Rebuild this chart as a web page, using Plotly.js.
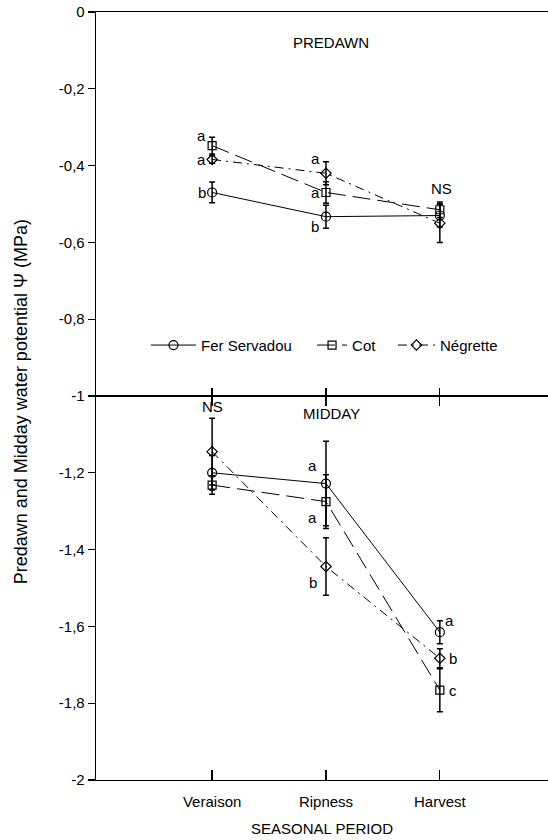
<!DOCTYPE html>
<html>
<head>
<meta charset="utf-8">
<script src="https://cdn.plot.ly/plotly-3.0.1.min.js"></script>
<style>
  html, body { margin: 0; padding: 0; background: #fff; }
  #chart { width: 548px; height: 840px; }
</style>
</head>
<body>
<div id="chart"></div>
<script>
// Seasonal periods on the x axis
const categories = ['Veraison', 'Ripness', 'Harvest'];
const varieties = ['Fer Servadou', 'Cot', 'Négrette'];

// Predawn leaf water potential (MPa) and standard errors
const predawnFer = [-0.47, -0.533, -0.53];
const predawnFerErr = [0.027, 0.03, 0.03];
const predawnCot = [-0.348, -0.47, -0.515];
const predawnCotErr = [0.022, 0.028, 0.02];
const predawnNeg = [-0.384, -0.42, -0.55];
const predawnNegErr = [0.01, 0.03, 0.05];

// Midday leaf water potential (MPa) and standard errors
const middayFer = [-1.2, -1.228, -1.615];
const middayFerErr = [0.045, 0.11, 0.03];
const middayCot = [-1.232, -1.275, -1.766];
const middayCotErr = [0.024, 0.07, 0.056];
const middayNeg = [-1.145, -1.444, -1.683];
const middayNegErr = [0.087, 0.075, 0.025];

// Tick labels (decimal comma)
const predawnTickVals = [0, -0.2, -0.4, -0.6, -0.8, -1];
const predawnTickText = ['0', '-0,2', '-0,4', '-0,6', '-0,8', '-1'];
const middayTickVals = [-1.2, -1.4, -1.6, -1.8, -2];
const middayTickText = ['-1,2', '-1,4', '-1,6', '-1,8', '-2'];

const FONT = 'Liberation Sans, Arial, Helvetica, sans-serif';
const INK = '#000';

// one legend per variety so each key sits at its own spot
const styles = [
  { symbol: 'circle-open', size: 9, dash: 'solid', legend: 'legend' },
  { symbol: 'square-open', size: 8, dash: '18px,7px', legend: 'legend2' },
  { symbol: 'diamond-open', size: 8, dash: '9px,5px,2px,5px', legend: 'legend3' }
];

function series(name, y, err, idx, xa, ya, showInLegend) {
  const s = styles[idx];
  return {
    type: 'scatter', mode: 'lines+markers', name: name,
    x: categories, y: y,
    xaxis: xa, yaxis: ya, showlegend: showInLegend, legend: s.legend,
    line: { color: INK, width: 1, dash: s.dash },
    marker: { symbol: s.symbol, size: s.size, color: INK, line: { color: INK, width: 1.2 } },
    error_y: { type: 'data', array: err, visible: true, color: INK, thickness: 1.5, width: 3 },
    cliponaxis: false
  };
}

const traces = [
  series(varieties[0], predawnFer, predawnFerErr, 0, 'x2', 'y', true),
  series(varieties[1], predawnCot, predawnCotErr, 1, 'x2', 'y', true),
  series(varieties[2], predawnNeg, predawnNegErr, 2, 'x2', 'y', true),
  series(varieties[0], middayFer, middayFerErr, 0, 'x', 'y2', false),
  series(varieties[1], middayCot, middayCotErr, 1, 'x', 'y2', false),
  series(varieties[2], middayNeg, middayNegErr, 2, 'x', 'y2', false)
];

// Significance letters, placed next to the point they refer to
function letter(text, cat, y, xa, ya, dx, dy) {
  return {
    text: text, x: cat, y: y, xref: xa, yref: ya,
    xshift: dx, yshift: dy, showarrow: false,
    xanchor: 'center', yanchor: 'middle',
    font: { family: FONT, size: 15, color: INK }
  };
}

const annotations = [
  // predawn
  letter('a', categories[0], predawnCot[0], 'x2', 'y', -11, 10),
  letter('a', categories[0], predawnNeg[0], 'x2', 'y', -11, 0),
  letter('b', categories[0], predawnFer[0], 'x2', 'y', -10, 0),
  letter('a', categories[1], predawnNeg[1], 'x2', 'y', -10, 15),
  letter('a', categories[1], predawnCot[1], 'x2', 'y', -10, 0),
  letter('b', categories[1], predawnFer[1], 'x2', 'y', -11, -10),
  letter('NS', categories[2], predawnCot[2], 'x2', 'y', 2, 21),
  // midday
  letter('NS', categories[0], middayNeg[0], 'x', 'y2', 0, 45),
  letter('a', categories[1], middayFer[1], 'x', 'y2', -13, 18),
  letter('a', categories[1], middayCot[1], 'x', 'y2', -13, -16),
  letter('b', categories[1], middayNeg[1], 'x', 'y2', -13, -16),
  letter('a', categories[2], middayFer[2], 'x', 'y2', 10, 12),
  letter('b', categories[2], middayNeg[2], 'x', 'y2', 13, 0),
  letter('c', categories[2], middayCot[2], 'x', 'y2', 13, 0),
  // panel labels
  { text: 'PREDAWN', xref: 'paper', yref: 'paper', x: 0.52, y: 0.96,
    xanchor: 'center', yanchor: 'middle', showarrow: false,
    font: { family: FONT, size: 15, color: INK } },
  { text: 'MIDDAY', xref: 'paper', yref: 'paper', x: 0.52, y: 0.4766,
    xanchor: 'center', yanchor: 'middle', showarrow: false,
    font: { family: FONT, size: 15, color: INK } },
  // shared y title spanning both panels
  { text: 'Predawn and Midday water potential Ψ (MPa)', xref: 'paper', yref: 'paper',
    x: -0.164, y: 0.493, xanchor: 'center', yanchor: 'middle', textangle: -90, showarrow: false,
    font: { family: FONT, size: 18, color: INK } }
];

const xRange = [-1.02, 2.95];
const axisCommon = {
  showgrid: false, zeroline: false, showline: true,
  linecolor: INK, linewidth: 1.3, tickcolor: INK, tickwidth: 1.3,
  tickfont: { family: FONT, size: 15, color: INK }
};

function legendAt(x, itemwidth) {
  return {
    orientation: 'h', x: x, xanchor: 'left', y: 0.566, yanchor: 'middle',
    bgcolor: 'rgba(0,0,0,0)', itemwidth: itemwidth,
    font: { family: FONT, size: 15, color: INK }
  };
}

const layout = {
  width: 548, height: 840,
  margin: { l: 96, r: 0, t: 12, b: 60 },
  paper_bgcolor: '#fff', plot_bgcolor: '#fff',
  font: { family: FONT, size: 15, color: INK },
  showlegend: true,
  legend: legendAt(0.1106, 45),
  legend2: legendAt(0.478, 30),
  legend3: legendAt(0.657, 37),
  // bottom panel (midday)
  xaxis: Object.assign({}, axisCommon, {
    type: 'category', range: xRange, anchor: 'y2',
    ticks: 'inside', ticklen: 10, mirror: 'ticks', ticklabelstandoff: 8,
    title: { text: 'SEASONAL PERIOD', font: { family: FONT, size: 15, color: INK }, standoff: 14 }
  }),
  yaxis2: Object.assign({}, axisCommon, {
    domain: [0, 0.5], range: [-2, -1], anchor: 'x',
    ticks: 'outside', ticklen: 7,
    tickvals: middayTickVals, ticktext: middayTickText
  }),
  // top panel (predawn)
  xaxis2: Object.assign({}, axisCommon, {
    type: 'category', range: xRange, anchor: 'y',
    ticks: 'inside', ticklen: 8, mirror: true, showticklabels: false
  }),
  yaxis: Object.assign({}, axisCommon, {
    domain: [0.5, 1], range: [-1, 0], anchor: 'x2',
    ticks: 'outside', ticklen: 7,
    tickvals: predawnTickVals, ticktext: predawnTickText
  }),
  annotations: annotations
};

Plotly.newPlot('chart', traces, layout, { displayModeBar: false, staticPlot: true });
</script>
</body>
</html>
